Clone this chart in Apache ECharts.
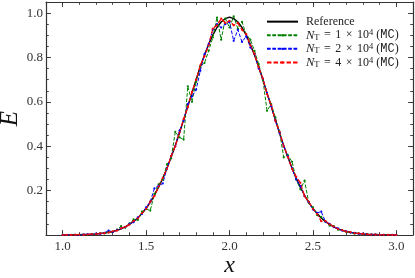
<!DOCTYPE html>
<html><head><meta charset="utf-8">
<script src="https://cdn.jsdelivr.net/npm/echarts@6/dist/echarts.min.js"></script>
<style>html,body{margin:0;padding:0;background:#fff}#c{width:415px;height:278px}</style>
</head><body><div id="c"></div>
<script>
const xs = [1.000,1.025,1.050,1.075,1.100,1.125,1.150,1.175,1.200,1.225,
 1.250,1.275,1.300,1.325,1.350,1.375,1.400,1.425,1.450,1.475,
 1.500,1.525,1.550,1.575,1.600,1.625,1.650,1.675,1.700,1.725,
 1.750,1.775,1.800,1.825,1.850,1.875,1.900,1.925,1.950,1.975,
 2.000,2.025,2.050,2.075,2.100,2.125,2.150,2.175,2.200,2.225,
 2.250,2.275,2.300,2.325,2.350,2.375,2.400,2.425,2.450,2.475,
 2.500,2.525,2.550,2.575,2.600,2.625,2.650,2.675,2.700,2.725,
 2.750,2.775,2.800,2.825,2.850,2.875,2.900,2.925,2.950,2.975,
 3.000];
const reference = [0.000,0.000,0.001,0.001,0.001,0.002,0.002,0.003,0.005,0.006,
 0.009,0.012,0.016,0.021,0.028,0.037,0.048,0.061,0.077,0.097,
 0.120,0.147,0.179,0.215,0.255,0.301,0.350,0.403,0.460,0.519,
 0.580,0.640,0.700,0.758,0.811,0.859,0.901,0.935,0.960,0.975,
 0.982,0.975,0.960,0.935,0.901,0.859,0.811,0.758,0.700,0.640,
 0.580,0.519,0.460,0.403,0.350,0.301,0.255,0.215,0.179,0.147,
 0.120,0.097,0.077,0.061,0.048,0.037,0.028,0.021,0.016,0.012,
 0.009,0.006,0.005,0.003,0.002,0.002,0.001,0.001,0.001,0.000,
 0.000];
const mc1e4 = [0.000,0.000,0.000,0.001,0.000,0.002,0.001,0.004,0.004,0.008,
 0.007,0.014,0.013,0.024,0.040,0.033,0.052,0.070,0.068,0.105,
 0.118,0.110,0.185,0.228,0.250,0.318,0.345,0.465,0.440,0.430,
 0.670,0.600,0.690,0.760,0.775,0.830,0.890,0.980,0.880,0.975,
 0.935,0.985,0.930,0.960,0.905,0.880,0.830,0.770,0.700,0.560,
 0.590,0.530,0.465,0.350,0.360,0.330,0.250,0.205,0.245,0.145,
 0.125,0.090,0.082,0.060,0.042,0.040,0.024,0.022,0.013,0.012,
 0.006,0.007,0.003,0.004,0.001,0.002,0.001,0.000,0.001,0.000,
 0.000];
const mc2e4 = [0.000,0.000,0.001,0.001,0.000,0.002,0.003,0.003,0.006,0.005,
 0.010,0.020,0.014,0.022,0.030,0.035,0.050,0.058,0.080,0.095,
 0.125,0.150,0.210,0.222,0.232,0.300,0.355,0.400,0.470,0.515,
 0.590,0.625,0.655,0.740,0.815,0.860,0.925,0.950,0.935,0.950,
 0.960,0.875,0.925,0.870,0.895,0.845,0.815,0.750,0.705,0.640,
 0.580,0.515,0.460,0.400,0.355,0.300,0.250,0.220,0.175,0.148,
 0.115,0.100,0.105,0.060,0.050,0.035,0.030,0.020,0.017,0.011,
 0.010,0.005,0.006,0.003,0.002,0.002,0.001,0.001,0.000,0.001,
 0.000];
const mc4e4 = [0.000,0.001,0.000,0.001,0.002,0.001,0.002,0.004,0.004,0.007,
 0.008,0.011,0.017,0.020,0.030,0.036,0.047,0.063,0.075,0.098,
 0.118,0.150,0.176,0.218,0.258,0.298,0.355,0.400,0.462,0.522,
 0.575,0.645,0.700,0.765,0.805,0.855,0.930,0.945,0.975,0.955,
 0.965,0.945,0.955,0.925,0.905,0.855,0.815,0.755,0.705,0.635,
 0.585,0.515,0.465,0.400,0.352,0.298,0.262,0.235,0.175,0.150,
 0.118,0.095,0.062,0.063,0.048,0.038,0.027,0.022,0.015,0.013,
 0.008,0.007,0.005,0.003,0.002,0.002,0.001,0.001,0.001,0.000,
 0.000];
const xTickLabels = ['1.0','1.5','2.0','2.5','3.0'];
const yTickLabels = ['0.2','0.4','0.6','0.8','1.0'];
const seriesNames = ['Reference','N_T = 1 × 10^4 (MC)','N_T = 2 × 10^4 (MC)','N_T = 4 × 10^4 (MC)'];
const seriesMant = [null,'1','2','4'];

const serif = 'Liberation Serif';
const frame = '#333';
const pairs = arr => xs.map((x, i) => [x, arr[i]]);

function fmtX(v){ const s = v.toFixed(1); return xTickLabels.indexOf(s) >= 0 && Math.abs(v*10 - Math.round(v*10)) < 1e-6 ? s : ''; }
function fmtY(v){ const s = v.toFixed(1); return yTickLabels.indexOf(s) >= 0 && Math.abs(v*10 - Math.round(v*10)) < 1e-6 ? s : ''; }

function xAx(pos, major, labels){
  const a = {type:'value', position:pos, min:0.9, max:3.1, splitLine:{show:false},
    axisLine:{show:major, onZero:false, lineStyle:{color:frame, width:1.2}},
    axisTick:{show:true, inside:true, length: major?5:2.8, lineStyle:{color:frame, width:0.9}},
    axisLabel:{show:labels, formatter:fmtX, fontFamily:serif, fontSize:13, color:'#333', margin:5}};
  if (major) a.splitNumber = 5; else a.interval = 0.1;
  if (labels) { a.name = 'x'; a.nameLocation='middle'; a.nameGap=19; a.nameMoveOverlap=false;
    a.nameTextStyle = {fontFamily:serif, fontStyle:'italic', fontSize:24, color:'#111'}; }
  return a;
}
function yAx(pos, major, labels){
  const a = {type:'value', position:pos, min:0, max:1.05, splitLine:{show:false},
    axisLine:{show:major, onZero:false, lineStyle:{color:frame, width:1.2}},
    axisTick:{show:true, inside:true, length: major?5:2.8, lineStyle:{color:frame, width:0.9}},
    axisLabel:{show:labels, formatter:fmtY, fontFamily:serif, fontSize:13, color:'#333', margin:3},
    interval: major?0.2:0.05};
  if (labels) { a.name = 'E'; a.nameLocation='middle'; a.nameGap=23; a.nameRotate=90; a.nameMoveOverlap=false;
    a.nameTextStyle = {fontFamily:serif, fontStyle:'italic', fontSize:25, color:'#111'}; }
  return a;
}

const chart = echarts.init(document.getElementById('c'), null, {renderer:'canvas'});
const lineSeries = (name, data, color, width, dash, sym) => ({
  name, type:'line', data: pairs(data), xAxisIndex:0, yAxisIndex:0,
  showSymbol: sym, symbol: 'circle', symbolSize: 2.2,
  itemStyle:{color}, lineStyle:{color, width, type: dash},
  animation:false, silent:true
});
chart.setOption({
  animation:false,
  grid:{left:46, right:2, top:2, bottom:43, containLabel:false, outerBoundsMode:'none'},
  xAxis:[xAx('bottom',true,true), xAx('bottom',false,false), xAx('top',true,false), xAx('top',false,false)],
  yAxis:[yAx('left',true,true), yAx('left',false,false), yAx('right',true,false), yAx('right',false,false)],
  legend:{orient:'vertical', left:266, top:15, padding:0, itemWidth:31, itemHeight:3, itemGap:0.3,
    data: [{name:seriesNames[0], itemStyle:{opacity:0}}, seriesNames[1], seriesNames[2], seriesNames[3]],
    formatter: function(name){
      const k = seriesNames.indexOf(name);
      if (k === 0) return '{n|Reference}';
      return '{i|N}{sub|T}{op|=}{n|' + seriesMant[k] + '}{op|×}{n|10}{sup|4}{n| (}{m|MC}{n|)}';
    },
    textStyle:{fontFamily:serif, fontSize:12, color:'#222', lineHeight:13.3, padding:[0,0,0,3],
      rich:{
        n:{fontFamily:serif, fontSize:12, color:'#222'},
        op:{fontFamily:serif, fontSize:12, color:'#222', padding:[0,4.5,0,4.5]},
        i:{fontFamily:serif, fontStyle:'italic', fontSize:12.5, color:'#222'},
        sub:{fontFamily:serif, fontSize:8.5, lineHeight:9, verticalAlign:'bottom', color:'#222'},
        sup:{fontFamily:serif, fontSize:8.5, lineHeight:9, verticalAlign:'top', color:'#222'},
        m:{fontFamily:'Liberation Mono', fontSize:12, color:'#222'}
      }}},
  series:[
    lineSeries(seriesNames[0], reference, '#000000', 1.4, 'solid', false),
    lineSeries(seriesNames[1], mc1e4, '#008000', 1, [3.7,1.6], true),
    lineSeries(seriesNames[2], mc2e4, '#0000ff', 1, [3.7,1.6], true),
    lineSeries(seriesNames[3], mc4e4, '#ff0000', 1.3, [4.5,2], true)
  ]
});
</script></body></html>
